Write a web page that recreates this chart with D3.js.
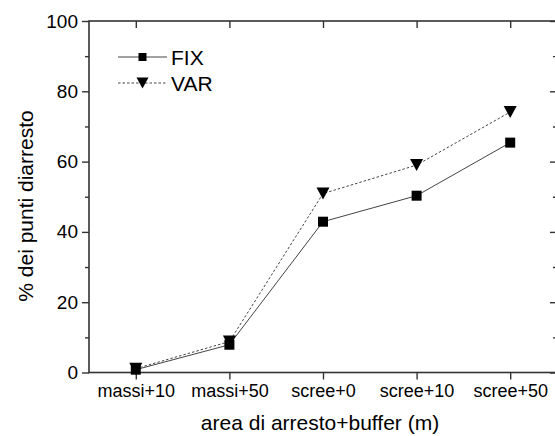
<!DOCTYPE html>
<html lang="it">
<head>
<meta charset="UTF-8">
<title>% dei punti di arresto</title>
<script src="https://d3js.org/d3.v7.min.js"></script>
<style>
  body { margin: 0; background: #fff; }
  svg { display: block; font-family: "Liberation Sans", Arial, sans-serif; }
  .frame { stroke: #333; stroke-width: 1.6px; fill: none; }
  .tick-line { stroke: #333; stroke-width: 1.4px; }
  .fix-line { fill: none; stroke: #444; stroke-width: 1px; }
  .var-line { fill: none; stroke: #444; stroke-width: 1px; stroke-dasharray: 2.5,2; }
  .marker { fill: #000; }
</style>
</head>
<body>
<svg id="chart" width="555" height="436"></svg>
<script>
// data
var categories = ["massi+10", "massi+50", "scree+0", "scree+10", "scree+50"];
var fixValues = [0.8, 7.9, 42.9, 50.3, 65.4];
var varValues = [1.1, 8.8, 50.9, 59.0, 74.1];
var yTicks = [0, 20, 40, 60, 80, 100];
var yMinorTicks = [10, 30, 50, 70, 90];
var seriesNames = ["FIX", "VAR"];

var svg = d3.select("#chart");
// plot box (note: "top" is taken by window.top)
var plotLeft = 89, plotRight = 557, plotTop = 21, plotBottom = 372.5;

var x = d3.scalePoint()
    .domain(categories)
    .range([plotLeft, plotRight])
    .padding(0.5);

var y = d3.scaleLinear()
    .domain([0, 100])
    .range([plotBottom, plotTop]);

function tidy(g){
    g.select(".domain").remove();
    g.selectAll("line").attr("class", "tick-line");
}

// frame (right side sits just outside the window)
svg.append("rect")
    .attr("class", "frame")
    .attr("x", plotLeft).attr("y", plotTop)
    .attr("width", plotRight - plotLeft).attr("height", plotBottom - plotTop);

// left axis
var gl = svg.append("g").attr("transform", "translate(" + plotLeft + ",0)")
    .call(d3.axisLeft(y).tickValues(yTicks).tickSize(7).tickPadding(4))
    .call(tidy);
gl.selectAll("text").attr("font-size", 19).attr("fill", "#000").attr("font-family", null);
svg.append("g").attr("transform", "translate(" + plotLeft + ",0)")
    .call(d3.axisLeft(y).tickValues(yMinorTicks).tickSize(4).tickFormat(""))
    .call(tidy);

// right axis, ticks inward
svg.append("g").attr("transform", "translate(" + plotRight + ",0)")
    .call(d3.axisLeft(y).tickValues(yTicks).tickSize(7).tickFormat(""))
    .call(tidy);
svg.append("g").attr("transform", "translate(" + plotRight + ",0)")
    .call(d3.axisLeft(y).tickValues(yMinorTicks).tickSize(4).tickFormat(""))
    .call(tidy);

// bottom axis
var gb = svg.append("g").attr("transform", "translate(0," + plotBottom + ")")
    .call(d3.axisBottom(x).tickSize(7).tickPadding(5))
    .call(tidy);
gb.selectAll("text").attr("font-size", 18).attr("fill", "#000").attr("font-family", null);

// top axis, ticks inward
svg.append("g").attr("transform", "translate(0," + plotTop + ")")
    .call(d3.axisBottom(x).tickSize(7).tickFormat(""))
    .call(tidy);

// axis titles
svg.append("text")
    .attr("x", (plotLeft + plotRight) / 2 - 3).attr("y", 430)
    .attr("text-anchor", "middle").attr("font-size", 21)
    .text("area di arresto+buffer (m)");

svg.append("text")
    .attr("transform", "translate(33,206) rotate(-90)")
    .attr("text-anchor", "middle").attr("font-size", 21)
    .text("% dei punti diarresto");

// series
var line = d3.line()
    .x(function(d, i){ return x(categories[i]); })
    .y(function(d){ return y(d); });

svg.append("path").attr("class", "fix-line").attr("d", line(fixValues));
svg.append("path").attr("class", "var-line").attr("d", line(varValues));

var square = d3.symbol().type(d3.symbolSquare);
var triDown = function(w, h){
    return "M" + (-w / 2) + "," + (-h / 2) + "L" + (w / 2) + "," + (-h / 2) + "L0," + (h / 2) + "Z";
};

svg.selectAll(".var-mark").data(varValues).enter().append("path")
    .attr("class", "marker var-mark")
    .attr("transform", function(d, i){ return "translate(" + x(categories[i]) + "," + y(d) + ")"; })
    .attr("d", triDown(13, 12));

svg.selectAll(".fix-mark").data(fixValues).enter().append("path")
    .attr("class", "marker fix-mark")
    .attr("transform", function(d, i){ return "translate(" + x(categories[i]) + "," + y(d) + ")"; })
    .attr("d", square.size(100)());

// legend
var legend = svg.append("g");
var legendY = [57, 83];
legend.append("line").attr("class", "fix-line")
    .attr("x1", 118).attr("x2", 167).attr("y1", legendY[0]).attr("y2", legendY[0]);
legend.append("path").attr("class", "marker")
    .attr("transform", "translate(142.5," + legendY[0] + ")")
    .attr("d", square.size(64)());
legend.append("line").attr("class", "var-line")
    .attr("x1", 118).attr("x2", 167).attr("y1", legendY[1]).attr("y2", legendY[1]);
legend.append("path").attr("class", "marker")
    .attr("transform", "translate(142.5," + legendY[1] + ")")
    .attr("d", triDown(12, 11));
legend.selectAll("text").data(seriesNames).enter().append("text")
    .attr("x", 171).attr("y", function(d, i){ return legendY[i] + 7.5; })
    .attr("font-size", 21)
    .text(function(d){ return d; });
</script>
</body>
</html>
